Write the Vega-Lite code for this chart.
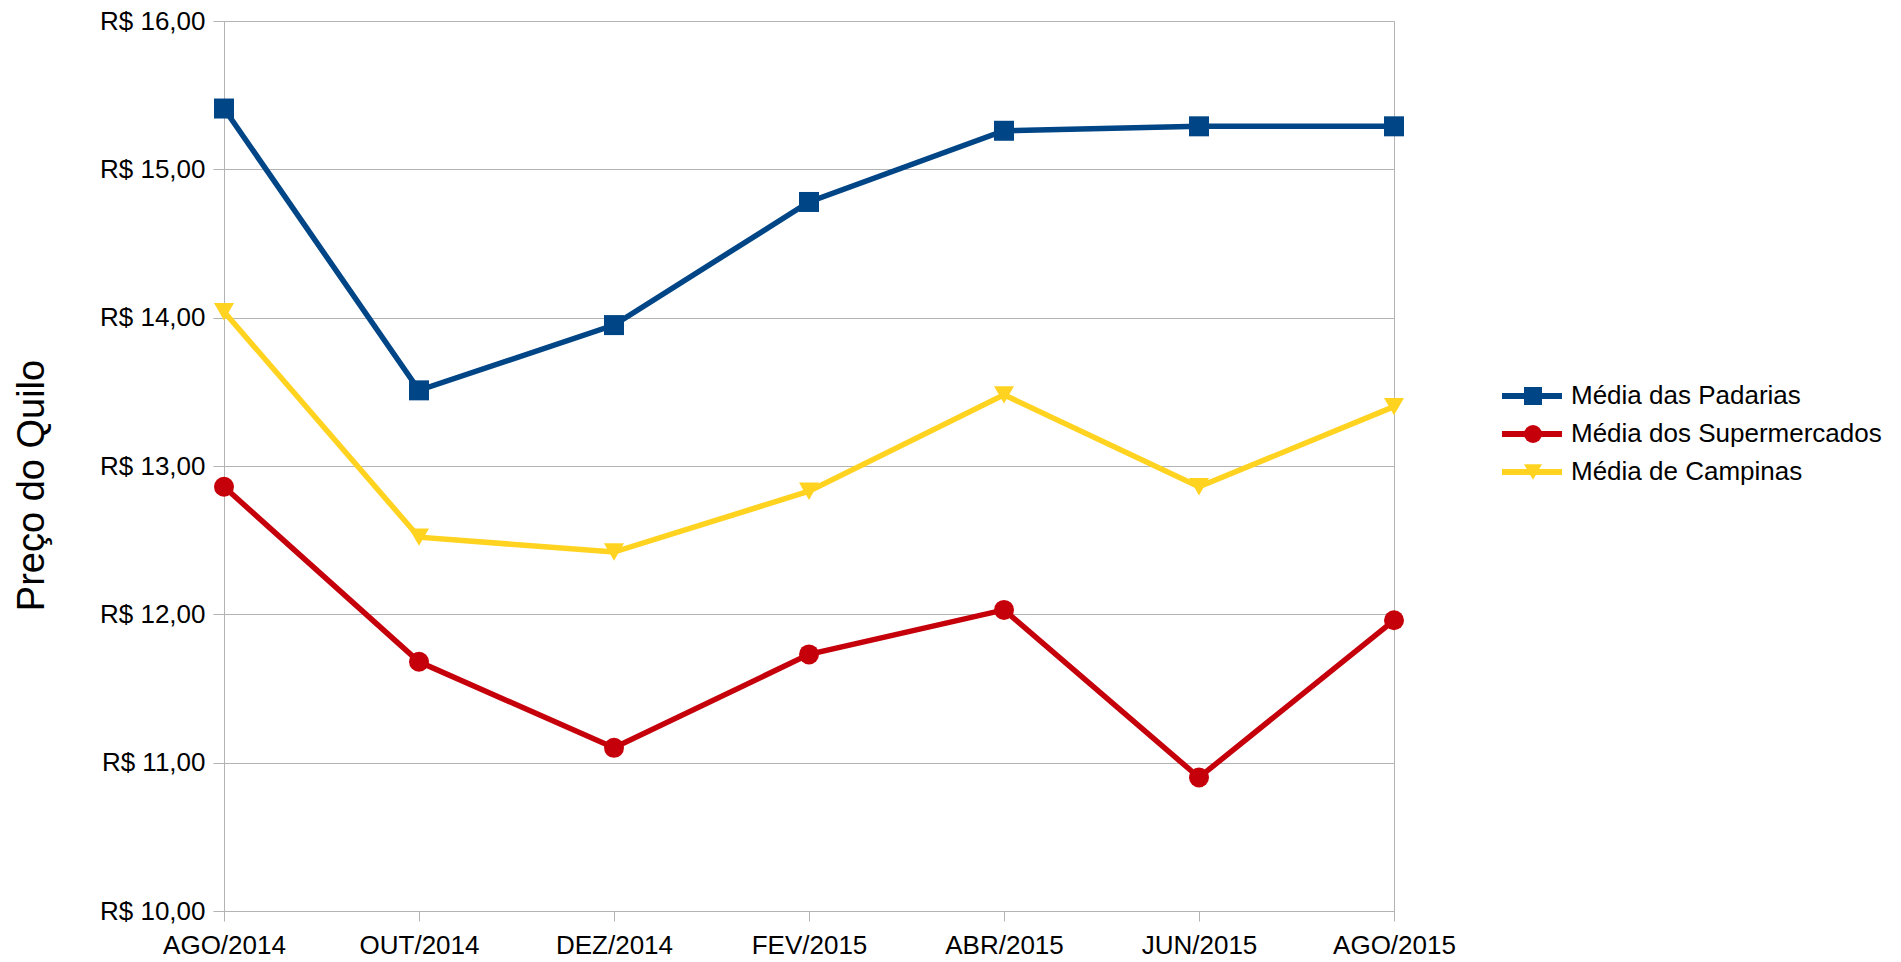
{
  "$schema": "https://vega.github.io/schema/vega-lite/v6.json",
  "width": 1170,
  "height": 890,
  "autosize": {"type": "none"},
  "padding": {"left": 224, "top": 21, "right": 507, "bottom": 51},
  "background": "white",
  "config": {
    "view": {"stroke": "#b3b3b3", "strokeWidth": 1},
    "font": "Liberation Sans",
    "axis": {
      "labelFont": "Liberation Sans",
      "labelFontSize": 26,
      "labelColor": "#000000",
      "tickColor": "#b3b3b3",
      "domainColor": "#b3b3b3",
      "gridColor": "#b3b3b3",
      "titleFont": "Liberation Sans",
      "titleFontWeight": "normal",
      "titleColor": "#000000"
    },
    "legend": {
      "labelFont": "Liberation Sans",
      "labelFontSize": 26,
      "labelColor": "#000000",
      "labelLimit": 600
    }
  },
  "data": {
    "values": [
      {"mes": "AGO/2014", "serie": "Média das Padarias", "preco": 15.41},
      {"mes": "OUT/2014", "serie": "Média das Padarias", "preco": 13.51},
      {"mes": "DEZ/2014", "serie": "Média das Padarias", "preco": 13.95},
      {"mes": "FEV/2015", "serie": "Média das Padarias", "preco": 14.78},
      {"mes": "ABR/2015", "serie": "Média das Padarias", "preco": 15.26},
      {"mes": "JUN/2015", "serie": "Média das Padarias", "preco": 15.29},
      {"mes": "AGO/2015", "serie": "Média das Padarias", "preco": 15.29},
      {"mes": "AGO/2014", "serie": "Média dos Supermercados", "preco": 12.86},
      {"mes": "OUT/2014", "serie": "Média dos Supermercados", "preco": 11.68},
      {"mes": "DEZ/2014", "serie": "Média dos Supermercados", "preco": 11.10},
      {"mes": "FEV/2015", "serie": "Média dos Supermercados", "preco": 11.73},
      {"mes": "ABR/2015", "serie": "Média dos Supermercados", "preco": 12.03},
      {"mes": "JUN/2015", "serie": "Média dos Supermercados", "preco": 10.90},
      {"mes": "AGO/2015", "serie": "Média dos Supermercados", "preco": 11.96},
      {"mes": "AGO/2014", "serie": "Média de Campinas", "preco": 14.04},
      {"mes": "OUT/2014", "serie": "Média de Campinas", "preco": 12.52},
      {"mes": "DEZ/2014", "serie": "Média de Campinas", "preco": 12.42},
      {"mes": "FEV/2015", "serie": "Média de Campinas", "preco": 12.83},
      {"mes": "ABR/2015", "serie": "Média de Campinas", "preco": 13.48},
      {"mes": "JUN/2015", "serie": "Média de Campinas", "preco": 12.86},
      {"mes": "AGO/2015", "serie": "Média de Campinas", "preco": 13.40}
    ]
  },
  "encoding": {
    "x": {
      "field": "mes",
      "type": "ordinal",
      "sort": ["AGO/2014", "OUT/2014", "DEZ/2014", "FEV/2015", "ABR/2015", "JUN/2015", "AGO/2015"],
      "scale": {"type": "point", "padding": 0},
      "axis": {"title": null, "labelAngle": 0, "tickSize": 10, "labelPadding": 11, "grid": false}
    },
    "y": {
      "field": "preco",
      "type": "quantitative",
      "scale": {"domain": [10, 16], "zero": false, "nice": false},
      "axis": {
        "title": "Preço do Quilo",
        "titleFontSize": 38,
        "titlePadding": 48,
        "titleY": 464,
        "values": [10, 11, 12, 13, 14, 15, 16],
        "labelExpr": "'R$ ' + replace(format(datum.value, '.2f'), '.', ',')",
        "tickSize": 11,
        "labelPadding": 8,
        "grid": true
      }
    }
  },
  "layer": [
    {
      "mark": {"type": "line", "strokeWidth": 5.5},
      "encoding": {
        "stroke": {
          "field": "serie",
          "type": "nominal",
          "sort": ["Média das Padarias", "Média dos Supermercados", "Média de Campinas"],
          "scale": {"range": ["#004586", "#c5000b", "#ffd320"]},
          "legend": {
            "title": null,
            "orient": "none",
            "legendX": 1295,
            "legendY": 362,
            "padding": 0,
            "symbolType": "M-3,0H3",
            "symbolSize": 400,
            "symbolStrokeWidth": 6,
            "labelOffset": 26,
            "rowPadding": 12
          }
        }
      }
    },
    {
      "mark": {"type": "point", "filled": true, "size": 400, "opacity": 1},
      "encoding": {
        "fill": {
          "field": "serie",
          "type": "nominal",
          "scale": {
            "domain": ["Média das Padarias", "Média dos Supermercados", "Média de Campinas"],
            "range": ["#004586", "#c5000b", "#ffd320"]
          },
          "legend": {
            "title": null,
            "orient": "none",
            "legendX": 1296,
            "legendY": 362,
            "padding": 0,
            "symbolSize": 324,
            "symbolOpacity": 1,
            "labelOpacity": 0,
            "rowPadding": 12
          }
        },
        "shape": {
          "field": "serie",
          "type": "nominal",
          "scale": {
            "domain": ["Média das Padarias", "Média dos Supermercados", "Média de Campinas"],
            "range": ["square", "circle", "triangle-down"]
          },
          "legend": {
            "title": null,
            "orient": "none",
            "legendX": 1296,
            "legendY": 362,
            "padding": 0,
            "symbolSize": 324,
            "symbolOpacity": 1,
            "labelOpacity": 0,
            "rowPadding": 12
          }
        }
      }
    }
  ]
}
